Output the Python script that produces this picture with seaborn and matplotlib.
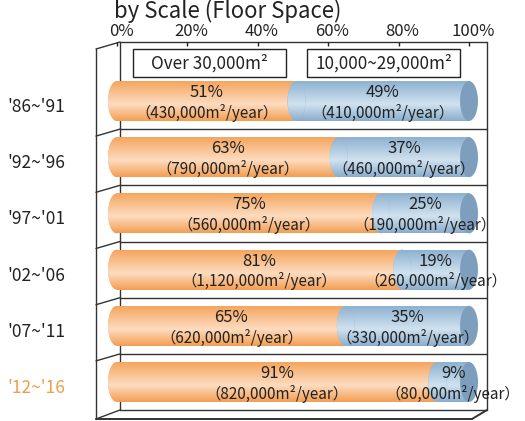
import numpy as np
import pandas as pd
import matplotlib
matplotlib.use("Agg")
import matplotlib.pyplot as plt
from matplotlib.patches import Ellipse, Rectangle
from matplotlib.lines import Line2D
from matplotlib.colors import LinearSegmentedColormap
from matplotlib.transforms import ScaledTranslation
import seaborn as sns

# ---- data -------------------------------------------------------------
periods = ["'86~'91", "'92~'96", "'97~'01", "'02~'06", "'07~'11", "'12~'16"]
share_large = [51, 63, 75, 81, 65, 91]          # over 30,000 m2 (%)
share_mid = [49, 37, 25, 19, 35, 9]             # 10,000~29,000 m2 (%)
area_large = ["430,000", "790,000", "560,000", "1,120,000", "620,000", "820,000"]
area_mid = ["410,000", "460,000", "190,000", "260,000", "330,000", "80,000"]
series_names = ["Over 30,000m²", "10,000~29,000m²"]
tick_values = [0, 20, 40, 60, 80, 100]
title = "by Scale (Floor Space)"

# ---- style ------------------------------------------------------------
sns.set_theme(style="white")
plt.rcParams["font.family"] = ["Noto Sans CJK JP", "DejaVu Sans"]
TXT = "#222222"
ORANGE_EDGE, ORANGE_LIGHT = "#f5a65e", "#fddcc0"
BLUE_EDGE, BLUE_LIGHT = "#8fb2d1", "#d0e2ef"
BLUE_CAP = "#7d9fbd"
HILITE = "#ef9f4a"

cmap_orange = LinearSegmentedColormap.from_list(
    "cyl_orange", [(0, ORANGE_EDGE), (0.58, ORANGE_LIGHT), (1, "#f39f52")])
cmap_blue = LinearSegmentedColormap.from_list(
    "cyl_blue", [(0, BLUE_EDGE), (0.58, BLUE_LIGHT), (1, "#8aaecd")])
grad = np.linspace(0, 1, 64).reshape(-1, 1)

W, H = 525, 421
fig = plt.figure(figsize=(W / 100, H / 100), dpi=100)


def fx(px):
    return px / W


def fy(py):
    return 1 - py / H


def nudge(dx_px, dy_px):
    return ScaledTranslation(dx_px / 100, -dy_px / 100, fig.dpi_scale_trans)


ax = fig.add_axes([fx(96), fy(419), fx(487) - fx(96), fy(42) - fy(419)])

df = pd.DataFrame({"period": periods, "large": share_large, "mid": share_mid})
df["total"] = df["large"] + df["mid"]

BAR_H = 0.71
CAP_W = 5.1   # width of the cylinder end ellipse, in % units

sns.barplot(data=df, y="period", x="total", orient="h", color=BLUE_EDGE,
            width=BAR_H, saturation=1, ax=ax, zorder=1)
sns.barplot(data=df, y="period", x="large", orient="h", color=ORANGE_EDGE,
            width=BAR_H, saturation=1, ax=ax, zorder=2)

n = len(periods)
blue_bars = ax.patches[:n]
orange_bars = ax.patches[n:2 * n]


def shade(patch, x0, x1, y0, y1, cmap, z):
    """Fill a patch with a vertical cylinder-style gradient."""
    im = ax.imshow(grad, cmap=cmap, aspect="auto", origin="upper",
                   extent=[x0, x1, y1, y0], zorder=z, interpolation="bilinear")
    im.set_clip_path(patch)


PCT_FS, AREA_FS = 12, 11

for i in range(n):
    bp, op = blue_bars[i], orange_bars[i]
    bp.set_edgecolor("none")
    op.set_edgecolor("none")
    yt = min(bp.get_y(), bp.get_y() + bp.get_height())
    yb = yt + abs(bp.get_height())
    yc = (yt + yb) / 2
    shade(bp, bp.get_x(), bp.get_x() + bp.get_width(), yt, yb, cmap_blue, 1.1)
    shade(op, op.get_x(), op.get_x() + op.get_width(), yt, yb, cmap_orange, 2.1)

    pl, pm = share_large[i], share_mid[i]
    total = df["total"][i]

    # rounded left end of the orange section
    e0 = Ellipse((0, yc), CAP_W, BAR_H, facecolor=ORANGE_EDGE, edgecolor="none", zorder=2)
    ax.add_patch(e0)
    shade(e0, -CAP_W / 2, CAP_W / 2, yt, yb, cmap_orange, 2.2)
    # rounded left end of the blue section
    e1 = Ellipse((pl, yc), CAP_W, BAR_H, facecolor=BLUE_EDGE,
                 edgecolor="none", zorder=3)
    ax.add_patch(e1)
    shade(e1, pl - CAP_W / 2, pl + CAP_W / 2, yt, yb, cmap_blue, 3.1)
    # flat end cap of the cylinder
    ax.add_patch(Ellipse((total, yc), CAP_W, BAR_H, facecolor=BLUE_CAP,
                         edgecolor="none", zorder=4))

    # value labels
    ax.text(pl / 2, yc - 0.15, f"{pl}%", ha="center", va="center",
            fontsize=PCT_FS, color=TXT, zorder=6)
    ax.text(pl / 2, yc + 0.21, f"（{area_large[i]}m²/year）", ha="center",
            va="center", fontsize=AREA_FS, color=TXT, zorder=6)
    ax.text(pl + pm / 2, yc - 0.15, f"{pm}%", ha="center", va="center",
            fontsize=PCT_FS, color=TXT, zorder=6)
    ax.text(pl + pm / 2, yc + 0.21, f"（{area_mid[i]}m²/year）", ha="center",
            va="center", fontsize=AREA_FS, color=TXT, zorder=6, clip_on=False)

# ---- axes -------------------------------------------------------------
ax.set_xlim(-5.966, 105.11)
ax.set_ylim(5.658, -1.05)
ax.set_xlabel("")
ax.set_ylabel("")
for s in ax.spines.values():
    s.set_visible(False)
ax.xaxis.tick_top()
ax.set_xticks(tick_values)
ax.set_xticklabels([f"{t}%" for t in tick_values])
ax.tick_params(axis="x", direction="in", length=3, width=1, color=TXT,
               pad=1.5, labelsize=12, labelcolor=TXT, top=True, bottom=False)
for lab in ax.get_xticklabels():
    lab.set_transform(lab.get_transform() + nudge(4, 0))
ax.set_yticks(range(n))
ax.set_yticklabels(periods)
ax.tick_params(axis="y", length=0, pad=22, labelsize=12.5, labelcolor=TXT)
for lab in ax.get_yticklabels():
    lab.set_transform(lab.get_transform() + nudge(0, 4))
ax.get_yticklabels()[-1].set_color(HILITE)
ax.patch.set_alpha(0)

# ---- frame (box with a slanted front edge) ----------------------------
LINE = dict(color="#333333", lw=1.0, transform=fig.transFigure, zorder=0)


def seg(x0, y0, x1, y1, **kw):
    fig.add_artist(Line2D([fx(x0), fx(x1)], [fy(y0), fy(y1)], **{**LINE, **kw}))


seg(120, 42, 487, 42)
seg(120, 42, 120, 410)
seg(487, 42, 487, 410)
seg(120, 42, 96, 49)
seg(96, 49, 96, 419)
for k in range(n):
    ysep = 101 + 56.2 * (k + 0.5)
    seg(120, ysep, 487, ysep)
    if k < n - 1:
        seg(120, ysep, 96, ysep + 7)
seg(120, 410, 96, 419)
seg(96, 419, 472, 419, lw=1.4)
seg(472, 419, 487, 410, lw=1.4)

# ---- legend boxes -----------------------------------------------------
for (x0, x1), name in zip([(133, 286), (307, 460)], series_names):
    fig.add_artist(Rectangle((fx(x0), fy(77)), fx(x1) - fx(x0), fy(49) - fy(77),
                             transform=fig.transFigure, fill=False,
                             edgecolor="#222222", lw=1.0))
    fig.text(fx((x0 + x1) / 2), fy(63.5), name, ha="center", va="center",
             fontsize=12.3, color=TXT)

fig.text(fx(228), fy(18), title, ha="center", va="baseline", fontsize=16,
         color=TXT)

fig.savefig("out.png", dpi=100)
